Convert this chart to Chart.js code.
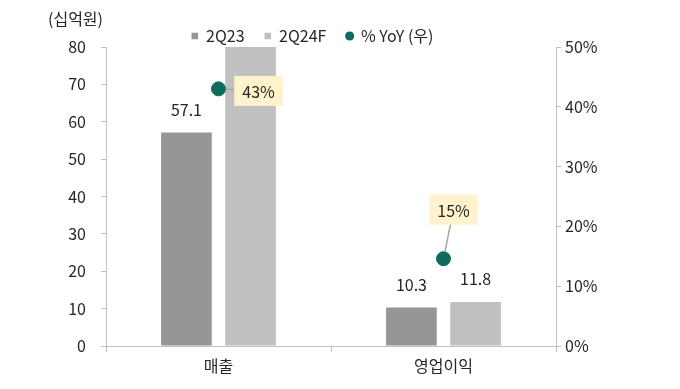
<!DOCTYPE html>
<html>
<head>
<meta charset="utf-8">
<script src="https://cdn.jsdelivr.net/npm/chart.js@4.4.1/dist/chart.umd.min.js"></script>
<style>
  html, body { margin: 0; padding: 0; background: #fff; }
  canvas { display: block; }
</style>
</head>
<body>
<canvas id="chart" width="680" height="389"></canvas>
<script>
'use strict';

// chart values
const categories = ['매출', '영업이익'];
const seriesNames = ['2Q23', '2Q24F', '% YoY (우)'];
const values2Q23 = [57.1, 10.3];
const values2Q24F = [81.7, 11.8];
const yoyValues = [43.0, 14.6];
const yoyLabels = ['43%', '15%'];
const unitLabel = '(십억원)';

const FONT = '"Noto Sans CJK KR", "Noto Sans", sans-serif';
const textColor = '#262626';
const axisColor = '#bfbfbf';

// bar values, YoY boxes and the unit label
const labelPlugin = {
    id: 'labelPlugin',
    beforeLayout(chart) {
        // keep the legend short while leaving wide gaps between items
        const lg = chart.legend;
        if (lg && !lg._fixed) {
            const fit = lg.fit;
            lg.fit = function () {
                fit.call(this);
                this.height = 39;
            };
            lg._fixed = true;
        }
    },
    afterDatasetsDraw(chart) {
        const ctx = chart.ctx;
        const yScale = chart.scales.y;
        ctx.save();
        ctx.font = '16px ' + FONT;
        ctx.fillStyle = textColor;
        ctx.textAlign = 'center';
        ctx.textBaseline = 'middle';

        [0, 1].forEach(di => {
            const meta = chart.getDatasetMeta(di);
            meta.data.forEach((bar, i) => {
                const v = chart.data.datasets[di].data[i];
                if (v > yScale.max) return;
                ctx.fillText(v.toFixed(1), bar.x, bar.y - 23);
            });
        });

        // YoY boxes
        const offsets = [[40, 2], [10, -49]];
        const meta = chart.getDatasetMeta(2);
        meta.data.forEach((pt, i) => {
            const bx = pt.x + offsets[i][0];
            const by = pt.y + offsets[i][1];
            const w = ctx.measureText(yoyLabels[i]).width + 16;
            const h = 30;
            const dx = bx - pt.x, dy = by - pt.y;
            const len = Math.sqrt(dx * dx + dy * dy);
            ctx.strokeStyle = '#a6a6a6';
            ctx.lineWidth = 1.5;
            ctx.beginPath();
            ctx.moveTo(pt.x + dx / len * 7, pt.y + dy / len * 7);
            ctx.lineTo(bx, by);
            ctx.stroke();
            ctx.fillStyle = '#fff2cc';
            ctx.fillRect(bx - w / 2, by - h / 2, w, h);
            ctx.fillStyle = textColor;
            ctx.fillText(yoyLabels[i], bx, by + 1);
        });

        ctx.textAlign = 'left';
        ctx.fillText(unitLabel, 48, 19);
        ctx.restore();
    }
};

new Chart(document.getElementById('chart'), {
    data: {
        labels: categories,
        datasets: [{
            type: 'bar',
            label: seriesNames[0],
            data: values2Q23,
            backgroundColor: '#969696',
            barPercentage: 0.79,
            categoryPercentage: 0.57,
            order: 1
        },
        {
            type: 'bar',
            label: seriesNames[1],
            data: values2Q24F,
            backgroundColor: '#c0c0c0',
            barPercentage: 0.79,
            categoryPercentage: 0.57,
            order: 1
        },
        {
            type: 'line',
            label: seriesNames[2],
            data: yoyValues,
            yAxisID: 'y1',
            showLine: false,
            pointRadius: 7,
            pointHoverRadius: 7,
            pointBackgroundColor: '#0e6b5e',
            pointBorderColor: '#0e6b5e',
            backgroundColor: '#0e6b5e',
            borderColor: '#0e6b5e',
            order: 0
        }]
    },
    options: {
        responsive: false,
        animation: false,
        devicePixelRatio: 1,
        layout: { padding: { left: 0, right: 55, top: 8, bottom: 8 } },
        plugins: {
            tooltip: { enabled: false },
            legend: {
                position: 'top',
                labels: {
                    usePointStyle: true,
                    boxWidth: 6.5,
                    boxHeight: 6.5,
                    padding: 20,
                    color: textColor,
                    font: { family: FONT, size: 16 },
                    sort: (a, b) => a.datasetIndex - b.datasetIndex,
                    generateLabels(chart) {
                        const items = Chart.defaults.plugins.legend.labels.generateLabels(chart);
                        items.forEach(it => {
                            it.pointStyle = chart.data.datasets[it.datasetIndex].type === 'line' ? 'circle' : 'rect';
                            it.lineWidth = 0;
                        });
                        return items;
                    }
                }
            }
        },
        scales: {
            x: {
                grid: { offset: true, drawOnChartArea: false, tickLength: 6, color: axisColor },
                border: { color: axisColor },
                ticks: { color: textColor, padding: 4, font: { family: FONT, size: 16 } },
                afterFit(scale) { scale.height = 35; }
            },
            y: {
                position: 'left',
                min: 0,
                max: 80,
                ticks: { stepSize: 10, color: textColor, padding: 15, font: { family: FONT, size: 16 } },
                grid: { drawOnChartArea: false, tickLength: 5, color: axisColor },
                border: { color: axisColor },
                afterFit(scale) { scale.width = 106; }
            },
            y1: {
                position: 'right',
                min: 0,
                max: 50,
                ticks: { stepSize: 10, color: textColor, padding: 4, font: { family: FONT, size: 16 }, callback: v => v + '%' },
                grid: { drawOnChartArea: false, tickLength: 5, color: axisColor },
                border: { color: axisColor },
                afterFit(scale) { scale.width = 69; }
            }
        }
    },
    plugins: [labelPlugin]
});
</script>
</body>
</html>
